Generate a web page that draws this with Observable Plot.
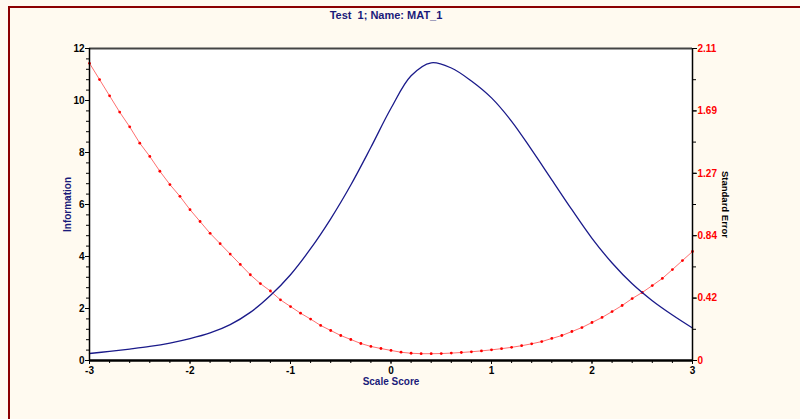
<!DOCTYPE html>
<html><head><meta charset="utf-8">
<script src="https://cdn.jsdelivr.net/npm/d3@7"></script>
<script src="https://cdn.jsdelivr.net/npm/@observablehq/plot@0.6"></script>
<style>
html,body{margin:0;padding:0;background:#fffaf0;}
#wrap{position:relative;width:800px;height:419px;overflow:hidden;background:#fffaf0;}
#frame{position:absolute;left:8px;top:6px;width:800px;height:420px;border-top:2px solid #8b0000;border-left:2px solid #8b0000;box-sizing:border-box;}
#title{position:absolute;top:9px;left:0;width:772px;text-align:center;font:bold 11px "Liberation Sans Narrow","Liberation Sans",Arial,sans-serif;color:#1a1a7a;white-space:pre;}
#chart{position:absolute;left:0;top:0;}
</style>
</head><body>
<div id="wrap"><div id="frame"></div><div id="title">Test  1; Name: MAT_1</div><div id="chart"></div></div>
<script>
// Information curve (left axis), theta step 0.2
const infoTheta = [-3,-2.8,-2.6,-2.4,-2.2,-2,-1.8,-1.6,-1.4,-1.2,-1,-0.8,-0.6,-0.4,-0.2,0,0.2,0.4,0.6,0.8,1,1.2,1.4,1.6,1.8,2,2.2,2.4,2.6,2.8,3];
const infoValues = [0.27,0.35,0.44,0.54,0.67,0.84,1.06,1.38,1.85,2.5,3.3,4.3,5.45,6.75,8.2,9.7,10.95,11.45,11.25,10.75,10.1,9.2,8.1,6.95,5.8,4.7,3.75,2.95,2.3,1.75,1.25];
// Standard error curve (right axis), theta step 0.1
const seTheta = [-3,-2.9,-2.8,-2.7,-2.6,-2.5,-2.4,-2.3,-2.2,-2.1,-2,-1.9,-1.8,-1.7,-1.6,-1.5,-1.4,-1.3,-1.2,-1.1,-1,-0.9,-0.8,-0.7,-0.6,-0.5,-0.4,-0.3,-0.2,-0.1,0,0.1,0.2,0.3,0.4,0.5,0.6,0.7,0.8,0.9,1,1.1,1.2,1.3,1.4,1.5,1.6,1.7,1.8,1.9,2,2.1,2.2,2.3,2.4,2.5,2.6,2.7,2.8,2.9,3];
const seValues = [2.01,1.90,1.79,1.68,1.58,1.47,1.38,1.28,1.19,1.11,1.02,0.94,0.86,0.79,0.72,0.65,0.58,0.52,0.47,0.41,0.365,0.32,0.28,0.237,0.203,0.169,0.142,0.115,0.095,0.081,0.068,0.056,0.049,0.046,0.046,0.047,0.050,0.054,0.059,0.065,0.072,0.080,0.089,0.100,0.113,0.128,0.149,0.169,0.196,0.223,0.257,0.291,0.331,0.372,0.419,0.46,0.507,0.555,0.615,0.676,0.737];
// tick labels
const xTickValues = [-3,-2,-1,0,1,2,3];
const leftTickValues = [0,2,4,6,8,10,12];
const rightTickLabels = ["0","0.42","0.84","1.27","1.69","2.11"];
const seMax = 2.11;
const infoMax = 12;

const k = infoMax / seMax;
const infoData = infoTheta.map((t,i)=>({t, v: infoValues[i]}));
const seData = seTheta.map((t,i)=>({t, v: seValues[i] * k}));
const xMinor = d3.range(-3, 3.001, 0.2).map(v=>+v.toFixed(2));
const yMinor = d3.range(0, 12.001, 0.4).map(v=>+v.toFixed(2));
const rightMajor = rightTickLabels.map((s,i)=> i*seMax/5*k);
const rightMinor = d3.range(0, 11).map(i=> i*seMax/10*k);
const font = '"Liberation Sans Narrow","Liberation Sans",Arial,sans-serif';
const navy = "#1a1a7a";

const chart = Plot.plot({
  width: 800, height: 419,
  marginLeft: 89, marginRight: 108, marginTop: 48, marginBottom: 59,
  style: {background: "transparent", fontFamily: font, fontSize: "10px", fontWeight: "bold", overflow: "visible"},
  x: {domain: [-3, 3]},
  y: {domain: [0, 12]},
  marks: [
    Plot.frame({fill: "white", stroke: null}),
    Plot.line(seData, {x: "t", y: "v", stroke: "#ff7070", strokeWidth: 1}),
    Plot.dot(seData, {x: "t", y: "v", r: 1.4, fill: "#ff0000", stroke: null}),
    Plot.line(infoData, {x: "t", y: "v", stroke: "#1a1a8a", strokeWidth: 1.3, curve: "catmull-rom"}),
    Plot.ruleY([12], {stroke: "#444", strokeWidth: 2}),
    Plot.ruleX([-3], {stroke: "black", strokeWidth: 1.5}),
    Plot.ruleX([3], {stroke: "black", strokeWidth: 1.5}),
    Plot.ruleY([0], {stroke: "black", strokeWidth: 2.5}),
    Plot.axisX({ticks: xTickValues, tickSize: 4, tickPadding: 2, tickFormat: d => String(d), fill: "black", fontWeight: "bold", label: null}),
    Plot.axisX({ticks: xMinor, tickSize: 3, text: null, label: null}),
    Plot.axisY({ticks: leftTickValues, tickSize: 4, tickPadding: 1, tickFormat: d => String(d), fill: "black", fontWeight: "bold", label: null}),
    Plot.axisY({ticks: yMinor, tickSize: 3, text: null, label: null}),
    Plot.axisY({anchor: "right", ticks: rightMajor, tickSize: 4, tickPadding: 1, tickFormat: (d, i) => rightTickLabels[i], fill: "red", fontWeight: "bold", label: null}),
    Plot.axisY({anchor: "right", ticks: rightMinor, tickSize: 3, text: null, label: null}),
    Plot.text(["Information"], {frameAnchor: "left", textAnchor: "middle", dx: -22, rotate: -90, fill: navy, fontSize: 10, fontWeight: "bold"}),
    Plot.text(["Standard Error"], {frameAnchor: "right", textAnchor: "middle", dx: 33, rotate: 90, fill: "black", fontSize: 9.5, fontWeight: "bold"}),
    Plot.text(["Scale Score"], {frameAnchor: "bottom", dy: 24, fill: navy, fontSize: 10, fontWeight: "bold"})
  ]
});
document.getElementById("chart").appendChild(chart);
</script>
</body></html>
